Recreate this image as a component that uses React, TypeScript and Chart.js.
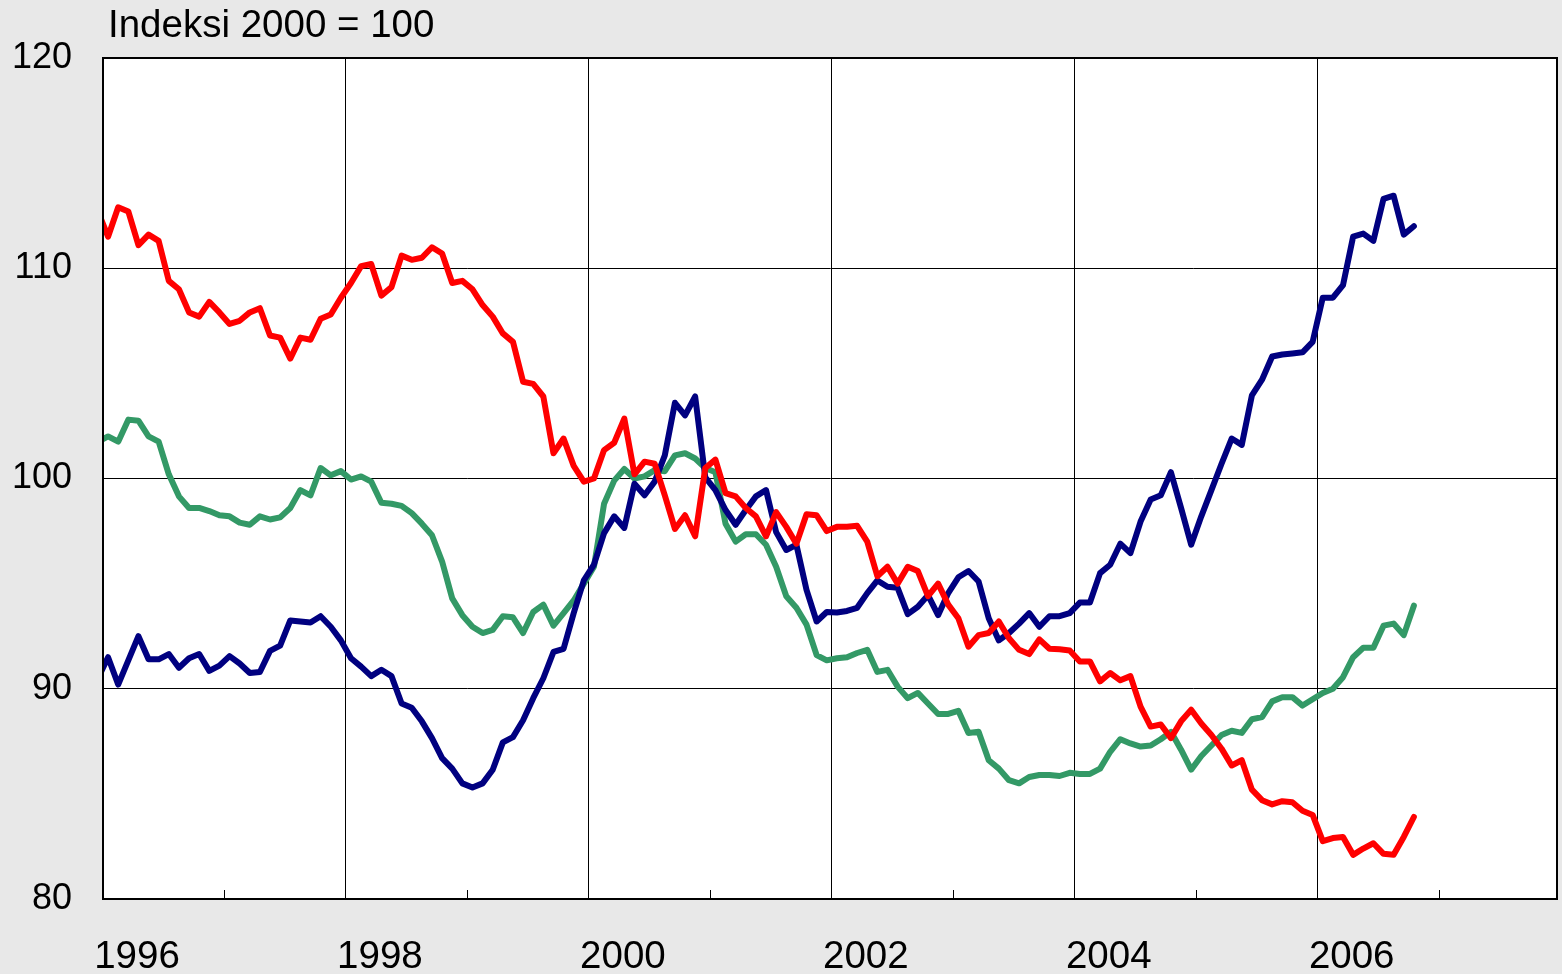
import React, { useEffect, useRef } from 'react';
import { Chart, registerables } from 'chart.js';

Chart.register(...registerables);

const chartTitle = 'Indeksi 2000 = 100';
const seriesNames = ['Punainen', 'Sininen', 'Vihreä'];
// Monthly observations, Dec 1995 ... Oct 2006
const firstYear = 1995;
const firstMonthIndex = 11; // December (0-based)

const redValues = [
  112.7, 111.5, 112.9, 112.7, 111.1, 111.6, 111.3, 109.4, 109.0, 107.9, 107.7, 108.4, 107.9,
  107.35, 107.5, 107.9, 108.1, 106.8, 106.7, 105.7, 106.7, 106.6, 107.6, 107.8, 108.6,
  109.3, 110.1, 110.2, 108.7, 109.1, 110.6, 110.4, 110.5, 111.0, 110.7, 109.3, 109.4,
  109.0, 108.25, 107.7, 106.9, 106.5, 104.6, 104.5, 103.9, 101.2, 101.9, 100.6, 99.85,
  100.0, 101.35, 101.7, 102.85, 100.2, 100.8, 100.7, 99.2, 97.6, 98.25, 97.25, 100.5,
  100.9, 99.3, 99.15, 98.6, 98.2, 97.25, 98.4, 97.7, 96.9, 98.3, 98.25, 97.5,
  97.7, 97.7, 97.75, 97.0, 95.35, 95.8, 95.0, 95.8, 95.6, 94.4, 95.0, 94.0,
  93.35, 92.0, 92.55, 92.65, 93.2, 92.4, 91.85, 91.65, 92.35, 91.9, 91.88, 91.82,
  91.3, 91.3, 90.35, 90.75, 90.4, 90.6, 89.15, 88.2, 88.3, 87.65, 88.45, 89.0,
  88.35, 87.8, 87.15, 86.35, 86.6, 85.2, 84.7, 84.5, 84.65, 84.6, 84.2, 84.0,
  82.75, 82.9, 82.95, 82.1, 82.4, 82.65, 82.15, 82.1, 82.95, 83.9,
];

const blueValues = [
  90.5, 91.5, 90.2, 91.35, 92.5, 91.4, 91.4, 91.65, 91.0, 91.45, 91.65, 90.85, 91.1,
  91.55, 91.2, 90.75, 90.8, 91.8, 92.05, 93.25, 93.2, 93.15, 93.45, 92.95, 92.3,
  91.45, 91.05, 90.6, 90.9, 90.6, 89.3, 89.1, 88.45, 87.65, 86.7, 86.2, 85.5,
  85.3, 85.5, 86.15, 87.45, 87.7, 88.5, 89.55, 90.5, 91.75, 91.9, 93.6, 95.15,
  95.9, 97.4, 98.2, 97.65, 99.75, 99.2, 99.85, 101.1, 103.6, 103.0, 103.9, 100.05,
  99.45, 98.5, 97.8, 98.5, 99.15, 99.45, 97.45, 96.6, 96.85, 94.7, 93.2, 93.65,
  93.63, 93.7, 93.85, 94.55, 95.15, 94.85, 94.8, 93.55, 93.9, 94.45, 93.5, 94.55,
  95.3, 95.6, 95.1, 93.35, 92.3, 92.65, 93.1, 93.6, 92.95, 93.45, 93.45, 93.6,
  94.1, 94.1, 95.5, 95.9, 96.9, 96.45, 97.95, 99.0, 99.2, 100.3, 98.6, 96.85,
  98.2, 99.45, 100.7, 101.9, 101.6, 103.95, 104.7, 105.8, 105.9, 105.95, 106.0, 106.5,
  108.6, 108.6, 109.2, 111.5, 111.65, 111.3, 113.3, 113.45, 111.6, 112.0,
];

const greenValues = [
  101.75, 102.0, 101.75, 102.8, 102.75, 102.0, 101.75, 100.2, 99.15, 98.6, 98.6, 98.45, 98.25,
  98.2, 97.9, 97.8, 98.2, 98.05, 98.15, 98.6, 99.45, 99.2, 100.5, 100.15, 100.35,
  99.95, 100.1, 99.85, 98.85, 98.8, 98.7, 98.35, 97.85, 97.3, 96.05, 94.3, 93.5,
  92.95, 92.65, 92.8, 93.45, 93.4, 92.65, 93.65, 94.0, 93.0, 93.6, 94.2, 95.0,
  95.8, 98.8, 99.9, 100.45, 100.0, 100.1, 100.4, 100.35, 101.1, 101.2, 100.95, 100.5,
  100.3, 97.85, 97.0, 97.35, 97.35, 96.85, 95.8, 94.4, 93.85, 93.05, 91.6, 91.35,
  91.45, 91.5, 91.7, 91.85, 90.8, 90.9, 90.1, 89.55, 89.8, 89.3, 88.8, 88.8,
  88.95, 87.9, 87.95, 86.6, 86.2, 85.65, 85.5, 85.8, 85.9, 85.9, 85.85, 86.0,
  85.95, 85.95, 86.2, 87.0, 87.6, 87.4, 87.25, 87.3, 87.6, 87.95, 87.1, 86.15,
  86.8, 87.3, 87.8, 88.0, 87.9, 88.55, 88.65, 89.4, 89.6, 89.6, 89.2, 89.5,
  89.8, 90.0, 90.55, 91.5, 91.95, 91.95, 93.0, 93.1, 92.55, 93.95,
];

const yTickValues = [80, 90, 100, 110, 120];
const xLabelYears = [1996, 1998, 2000, 2002, 2004, 2006];
const xMin = 1996;
const xMax = 2007.97;

// x position of each monthly observation (middle of the month, in years)
const monthPositions = redValues.map((_, i) => firstYear + (firstMonthIndex + i + 0.5) / 12);

const toPoints = (vals: number[]) => vals.map((v, i) => ({ x: monthPositions[i], y: v }));

const FONT = '"Liberation Sans", Arial, Helvetica, sans-serif';

const framePlugin = {
  id: 'frame',
  beforeDraw(chart: any) {
    const { ctx, chartArea: a, width, height } = chart;
    ctx.save();
    ctx.fillStyle = '#E8E8E8';
    ctx.fillRect(0, 0, width, height);
    ctx.fillStyle = '#FFFFFF';
    ctx.fillRect(a.left, a.top, a.right - a.left, a.bottom - a.top);
    ctx.restore();
  },
  afterDraw(chart: any) {
    const { ctx, chartArea: a, scales } = chart;
    ctx.save();
    // minor ticks at odd years, pointing into the plot
    ctx.strokeStyle = '#000';
    ctx.lineWidth = 1;
    for (let yr = xMin + 1; yr < xMax; yr += 2) {
      const px = Math.round(scales.x.getPixelForValue(yr)) + 0.5;
      ctx.beginPath();
      ctx.moveTo(px, a.bottom);
      ctx.lineTo(px, a.bottom - 9);
      ctx.stroke();
    }
    // frame
    ctx.lineWidth = 2;
    ctx.strokeRect(a.left, a.top, a.right - a.left, a.bottom - a.top);
    // title
    ctx.fillStyle = '#000';
    ctx.font = `38.5px ${FONT}`;
    ctx.textAlign = 'left';
    ctx.textBaseline = 'alphabetic';
    ctx.fillText(chartTitle, 108, 37);
    ctx.restore();
  },
};

export default function App() {
  const ref = useRef<HTMLCanvasElement | null>(null);
  useEffect(() => {
    document.body.style.margin = '0';
    document.body.style.background = '#E8E8E8';
    const canvas = ref.current;
    if (!canvas) return;
    const chart = new Chart(canvas, {
      type: 'line',
      data: {
        datasets: [
          { label: seriesNames[0], data: toPoints(redValues), borderColor: '#FF0000' },
          { label: seriesNames[1], data: toPoints(blueValues), borderColor: '#000080' },
          { label: seriesNames[2], data: toPoints(greenValues), borderColor: '#339966' },
        ].map((d) => ({
          ...d,
          borderWidth: 6,
          pointRadius: 0,
          pointHoverRadius: 0,
          tension: 0,
          fill: false,
          clip: 0,
          borderJoinStyle: 'round' as const,
          borderCapStyle: 'round' as const,
        })),
      },
      options: {
        responsive: false,
        animation: false,
        events: [],
        layout: { padding: { left: 0, top: 58, right: 5, bottom: 0 } },
        plugins: {
          legend: { display: false },
          tooltip: { enabled: false },
          title: { display: false },
        },
        scales: {
          x: {
            type: 'linear',
            min: xMin,
            max: xMax,
            afterFit: (s: any) => {
              s.height = 75;
              s.paddingLeft = 0;
              s.paddingRight = 0;
            },
            afterBuildTicks: (s: any) => {
              const t = [];
              for (let y = xMin; y <= xMax; y++) t.push({ value: y });
              s.ticks = t;
            },
            ticks: {
              autoSkip: false,
              maxRotation: 0,
              minRotation: 0,
              labelOffset: 34,
              padding: 35,
              color: '#000',
              font: { family: FONT, size: 38.5 },
              callback: (v: any) => (xLabelYears.includes(Number(v)) ? String(v) : ''),
            },
            grid: {
              drawTicks: false,
              color: (c: any) => (c.tick && c.tick.value % 2 === 0 ? '#000' : 'rgba(0,0,0,0)'),
              lineWidth: 1,
            },
            border: { display: true, color: '#000', width: 2 },
          },
          y: {
            min: 80,
            max: 120,
            afterFit: (s: any) => {
              s.width = 103;
              s.paddingTop = 0;
              s.paddingBottom = 0;
            },
            afterBuildTicks: (s: any) => {
              s.ticks = yTickValues.map((v) => ({ value: v }));
            },
            ticks: {
              padding: 31,
              color: '#000',
              font: { family: FONT, size: 36 },
            },
            grid: { drawTicks: false, color: '#000', lineWidth: 1 },
            border: { display: true, color: '#000', width: 2 },
          },
        },
      },
      plugins: [framePlugin],
    });
    return () => chart.destroy();
  }, []);
  return (
    <canvas
      ref={ref}
      width={1562}
      height={974}
      style={{ display: 'block', width: '1562px', height: '974px' }}
    />
  );
}
